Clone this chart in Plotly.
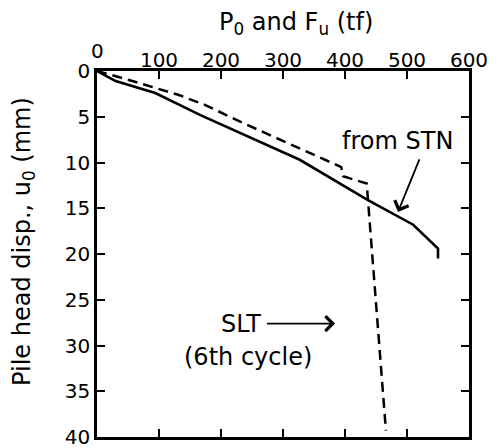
import plotly.graph_objects as go

# Data
stn_load = [0, 30, 94, 166, 327, 437, 510, 550, 550]
stn_disp = [0, 1.1, 2.4, 4.8, 9.7, 14.1, 16.8, 19.4, 20.5]

slt_load = [0, 50, 131, 174, 236, 327, 394, 397, 435, 466]
slt_disp = [0, 0.95, 2.6, 3.7, 5.7, 8.45, 10.5, 11.5, 12.3, 39.3]

x_ticks = [100, 200, 300, 400, 500, 600]
y_ticks = [0, 5, 10, 15, 20, 25, 30, 35, 40]

FONT = "DejaVu Sans, sans-serif"

fig = go.Figure()
fig.add_trace(go.Scatter(x=stn_load, y=stn_disp, mode="lines",
                         line=dict(color="black", width=2.6), showlegend=False))
fig.add_trace(go.Scatter(x=slt_load, y=slt_disp, mode="lines",
                         line=dict(color="black", width=2.5, dash="10px,6px"), showlegend=False))

fig.update_layout(
    width=498, height=448,
    margin=dict(l=97, r=29, t=71, b=11),
    paper_bgcolor="white", plot_bgcolor="white",
    font=dict(family=FONT, size=20, color="black"),
    showlegend=False,
)
fig.update_xaxes(
    range=[0, 600], side="top", tickvals=x_ticks,
    ticks="inside", ticklen=8, tickwidth=2.2, tickcolor="black",
    showline=True, linecolor="black", linewidth=2.5, mirror="ticks",
    showgrid=False, zeroline=False, tickfont=dict(size=20), ticklabelstandoff=-7,
    automargin=False, ticklabeloverflow="allow",
)
fig.update_yaxes(
    range=[40, 0], tickvals=y_ticks,
    ticks="inside", ticklen=8, tickwidth=2.2, tickcolor="black",
    showline=True, linecolor="black", linewidth=2.5, mirror="ticks",
    showgrid=False, zeroline=False, tickfont=dict(size=20), ticklabelstandoff=0,
    automargin=False, ticklabeloverflow="allow",
)

# axis titles
fig.add_annotation(xref="paper", yref="paper", x=0.535, y=1.131,
                   text="P<sub>0</sub> and F<sub>u</sub> (tf)", showarrow=False,
                   font=dict(size=24), xanchor="center", yanchor="middle")
fig.add_annotation(xref="paper", yref="paper", x=-0.199, y=0.5355,
                   text="Pile head disp., u<sub>0</sub> (mm)", showarrow=False,
                   textangle=-90, font=dict(size=24), xanchor="center", yanchor="middle")
# top-left "0" tick label
fig.add_annotation(xref="paper", yref="paper", x=0.0, y=1.0546, text="0",
                   showarrow=False, font=dict(size=20), xanchor="center", yanchor="middle")

# labels with arrows
fig.add_annotation(x=485, y=7.7, text="from STN", showarrow=False,
                   font=dict(size=24), xanchor="center", yanchor="middle")
fig.add_annotation(x=485.5, y=15.4, ax=521, ay=9.5, axref="x", ayref="y",
                   text="", showarrow=True, arrowhead=4, arrowsize=1.6,
                   arrowwidth=1.8, arrowcolor="black")
fig.add_annotation(x=384, y=27.6, ax=233, ay=27.6, axref="x", ayref="y",
                   text="SLT", showarrow=True, arrowhead=4, arrowsize=1.6,
                   arrowwidth=1.8, arrowcolor="black", startstandoff=4,
                   font=dict(size=24))
fig.add_annotation(x=243.5, y=31.3, text="(6th cycle)", showarrow=False,
                   font=dict(size=24), xanchor="center", yanchor="middle")

fig.write_html("out.html", config={"displayModeBar": False},
               post_script="document.body.style.margin='0px';")
